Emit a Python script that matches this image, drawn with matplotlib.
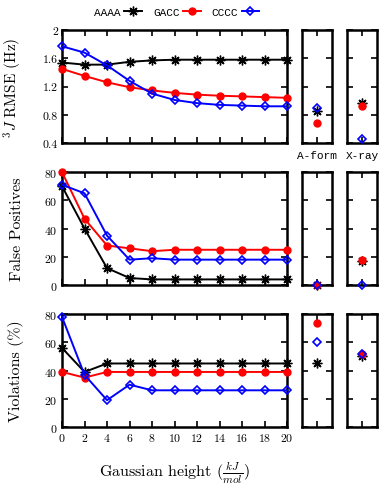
import numpy as np
import matplotlib
matplotlib.use('Agg')
import matplotlib.pyplot as plt

plt.rcParams['font.family'] = 'cmr10'
plt.rcParams['mathtext.fontset'] = 'cm'
plt.rcParams['axes.formatter.use_mathtext'] = True
plt.rcParams['font.size'] = 8.5

# gaussian heights (kJ/mol)
heights = np.arange(0, 21, 2)
names = ['AAAA', 'GACC', 'CCCC']
refs = ['A-form', 'X-ray']

# 3J RMSE (Hz)
rmse_aaaa = [1.54, 1.51, 1.51, 1.55, 1.57, 1.58, 1.58, 1.58, 1.58, 1.58, 1.58]
rmse_gacc = [1.45, 1.35, 1.26, 1.19, 1.145, 1.11, 1.085, 1.07, 1.06, 1.05, 1.04]
rmse_cccc = [1.77, 1.68, 1.50, 1.28, 1.10, 1.01, 0.965, 0.94, 0.93, 0.92, 0.92]
rmse_ref = {'AAAA': [0.85, 0.97], 'GACC': [0.69, 0.92], 'CCCC': [0.90, 0.46]}

# false positives
fp_aaaa = [70, 40, 12, 5, 4, 4, 4, 4, 4, 4, 4]
fp_gacc = [80, 47, 28, 26, 24, 25, 25, 25, 25, 25, 25]
fp_cccc = [71, 65, 35, 18, 19, 18, 18, 18, 18, 18, 18]
fp_ref = {'AAAA': [0, 17], 'GACC': [0, 18], 'CCCC': [0, 0]}

# violations (%)
viol_aaaa = [56, 39, 45, 45, 45, 45, 45, 45, 45, 45, 45]
viol_gacc = [39, 35, 39, 39, 39, 39, 39, 39, 39, 39, 39]
viol_cccc = [78, 37, 19, 30, 26, 26, 26, 26, 26, 26, 26]
viol_ref = {'AAAA': [45, 50], 'GACC': [74, 52], 'CCCC': [60, 52]}

styles = {
    'AAAA': dict(color='black', marker=(8, 2, 0), markersize=7, mew=1.0,
                 mfc='black', mec='black'),
    'GACC': dict(color='red', marker='o', markersize=5, mfc='red', mec='red'),
    'CCCC': dict(color='blue', marker='D', markersize=4.5, mfc='none',
                 mec='blue', mew=1.2),
}

rows = [
    ([rmse_aaaa, rmse_gacc, rmse_cccc], rmse_ref, (0.4, 2.0),
     [0.4, 0.8, 1.2, 1.6, 2.0], ['0.4', '0.8', '1.2', '1.6', '2'],
     r'$^3J$ RMSE (Hz)', 11),
    ([fp_aaaa, fp_gacc, fp_cccc], fp_ref, (0, 80),
     [0, 20, 40, 60, 80], None, 'False Positives', 11.5),
    ([viol_aaaa, viol_gacc, viol_cccc], viol_ref, (0, 80),
     [0, 20, 40, 60, 80], None, r'Violations (%)', 11.5),
]

fig = plt.figure(figsize=(3.9, 4.89), dpi=100)
row_bottoms = [0.7055, 0.415, 0.1247]
row_h = 0.231
mono = 'Liberation Mono'


def style_axes(ax):
    for s in ax.spines.values():
        s.set_linewidth(1.8)
    ax.tick_params(direction='in', top=True, right=True, length=4, width=1.2,
                   pad=3)


for r, (series, ref, ylim, yticks, yticklabels, ylabel, lsize) in enumerate(rows):
    b = row_bottoms[r]
    ax = fig.add_axes([0.159, b, 0.577, row_h])
    for name, vals in zip(names, series):
        ax.plot(heights, vals, lw=1.4, clip_on=False, label=name,
                zorder=3, **styles[name])
    ax.set_xlim(0, 20)
    ax.set_ylim(*ylim)
    ax.set_xticks(heights)
    ax.set_yticks(yticks)
    if yticklabels:
        ax.set_yticklabels(yticklabels)
    style_axes(ax)
    ax.set_ylabel(ylabel, fontsize=lsize)
    ax.yaxis.set_label_coords(-0.17, 0.5)
    if r < 2:
        ax.set_xticklabels([])
    else:
        ax.set_xlabel(r'Gaussian height ($\frac{kJ}{mol}$)', fontsize=11.5,
                      labelpad=12)
    if r == 0:
        ax.legend(loc='lower center', bbox_to_anchor=(0.51, 1.03), ncol=3,
                  frameon=False, markerfirst=False, handlelength=1.6,
                  handletextpad=0.3, columnspacing=1.0,
                  prop={'family': mono, 'size': 8})

    lefts = [0.774, 0.890]
    for k, ref_name in enumerate(refs):
        sax = fig.add_axes([lefts[k], b, 0.077, row_h])
        for name in names:
            st = dict(styles[name])
            st.pop('color')
            sax.plot([0], [ref[name][k]], ls='none', clip_on=False, zorder=3,
                     color=styles[name]['color'], **st)
        sax.set_xlim(-1, 1)
        sax.set_ylim(*ylim)
        sax.set_yticks(yticks)
        sax.set_yticklabels([])
        sax.set_xticks([0])
        style_axes(sax)
        if r == 0:
            sax.set_xticklabels([ref_name], family=mono, fontsize=8)
            sax.tick_params(axis='x', pad=5)
        else:
            sax.set_xticklabels([])

fig.savefig('out.png', dpi=100)
